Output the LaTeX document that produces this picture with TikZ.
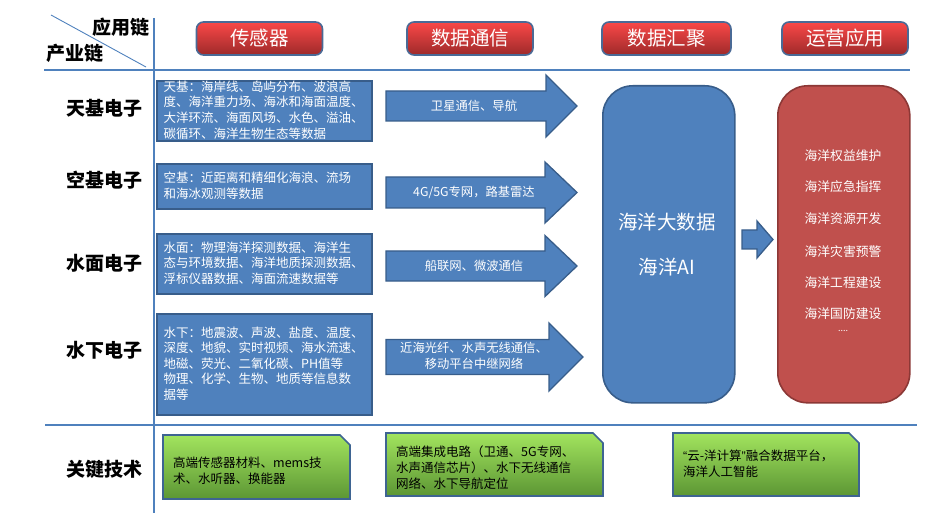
\documentclass[tikz,border=0pt]{standalone}
\usepackage{fontspec}
\setmainfont{Noto Sans CJK SC}
\newfontfamily\narrowq{Liberation Sans}
\definecolor{lineblue}{HTML}{4F81BD}
\definecolor{boxblue}{HTML}{4F81BD}
\definecolor{boxedge}{HTML}{385D8A}
\definecolor{redfill}{HTML}{C0504D}
\definecolor{rededge}{HTML}{8C3836}
\definecolor{hdrtop}{HTML}{FA4848}
\definecolor{hdrbot}{HTML}{9E2A2A}
\definecolor{hdredge}{HTML}{4A6A96}
\definecolor{greentop}{HTML}{A2E45E}
\definecolor{greenbot}{HTML}{5C9634}
\definecolor{greenedge}{HTML}{3E6492}
\newcommand\myfs[2]{\fontsize{#1}{#2}\selectfont}
\newcommand\blkarrow[6]{\filldraw[arrowbody] (#1,#4-#5) -- (#2,#4-#5) -- (#2,#4-#6) -- (#3,#4) -- (#2,#4+#6) -- (#2,#4+#5) -- (#1,#4+#5) -- cycle;}
\tikzset{
  sepline/.style={draw=lineblue, line width=2.3pt},
  rowlab/.style={anchor=east, font=\bfseries\myfs{19}{22}, inner sep=0pt},
  hdrbtn/.style={rounded corners=7pt, draw=hdredge, line width=1.6pt, top color=hdrtop, bottom color=hdrbot, text=white, font=\myfs{19.5}{22}, minimum width=126pt, minimum height=33pt, inner sep=0pt},
  databox/.style={draw=boxedge, fill=boxblue, line width=1.6pt, anchor=north west, inner sep=0pt, minimum width=215pt},
  datatxt/.style={anchor=west, align=left, text=white, font=\myfs{12.5}{15.6}, inner sep=0pt},
  arrowbody/.style={fill=boxblue, draw=boxedge, line width=1.3pt},
  arrtxt/.style={text=white, font=\myfs{12.3}{16}, align=center, inner sep=0pt},
  bigbox/.style={rounded corners=30pt, line width=1.6pt, anchor=north west, inner sep=0pt, minimum width=132pt, minimum height=317pt},
  appt/.style={text=white, font=\myfs{12.8}{15}, inner sep=0pt},
  greenbox/.style={top color=greentop, bottom color=greenbot, draw=greenedge, line width=1.6pt},
  greentxt/.style={anchor=west, align=left, font=\myfs{12.5}{15.8}, inner sep=0pt}
}
\begin{document}
\begin{tikzpicture}[x=1pt, y=-1pt]
\useasboundingbox (0,0) rectangle (931,521);
% grid lines
\draw[sepline] (154,18) -- (154,513);
\draw[sepline] (44,70) -- (910,70);
\draw[sepline] (45,425) -- (917,425);
\draw[draw=lineblue, line width=0.9pt] (51,15) -- (146,67);
\node[anchor=east, font=\bfseries\myfs{19}{22}, inner sep=0pt] (yyl) at (150,27) {应用链};
\node[font=\bfseries\myfs{19}{22}, inner sep=0pt] (cyl) at (75,53) {产业链};
% header buttons
\node[hdrbtn] (h1) at (259.5,38.5) {传感器};
\node[hdrbtn] (h2) at (470,38.5) {数据通信};
\node[hdrbtn, minimum width=129pt] (h3) at (666.5,38.5) {数据汇聚};
\node[hdrbtn] (h4) at (845,38.5) {运营应用};
% row labels
\node[rowlab] (r1) at (143,108) {天基电子};
\node[rowlab] (r2) at (143,180) {空基电子};
\node[rowlab] (r3) at (143,263) {水面电子};
\node[rowlab] (r4) at (143,350) {水下电子};
\node[rowlab] (r5) at (143,469) {关键技术};
% sensor boxes
\node[databox, minimum height=60pt] (b1) at (156,80) {};
\node[datatxt] (t1) at (163.5,110) {天基：海岸线、岛屿分布、波浪高\\度、海洋重力场、海冰和海面温度、\\大洋环流、海面风场、水色、溢油、\\碳循环、海洋生物生态等数据};
\node[databox, minimum height=45pt] (b2) at (156,163) {};
\node[datatxt] (t2) at (163.5,185.5) {空基：近距离和精细化海浪、流场\\和海冰观测等数据};
\node[databox, minimum height=60pt] (b3) at (156,233) {};
\node[datatxt] (t3) at (163.5,263) {水面：物理海洋探测数据、海洋生\\态与环境数据、海洋地质探测数据、\\浮标仪器数据、海面流速数据等};
\node[databox, minimum height=101pt] (b4) at (156,313) {};
\node[datatxt] (t4) at (163.5,363.5) {水下：地震波、声波、盐度、温度、\\深度、地貌、实时视频、海水流速、\\地磁、荧光、二氧化碳、PH值等\\物理、化学、生物、地质等信息数\\据等};
% communication arrows
\blkarrow{386}{546}{577}{106}{15}{31}
\node[arrtxt] (a1) at (474,106) {卫星通信、导航};
\blkarrow{386}{545}{577}{192.5}{15.5}{30.5}
\node[arrtxt] (a2) at (474,192.5) {4G/5G专网，路基雷达};
\blkarrow{386}{545}{577}{266}{15}{30.5}
\node[arrtxt] (a3) at (474,266) {船联网、微波通信};
\blkarrow{386}{549}{583}{357}{17.5}{34}
\node[arrtxt] (a4) at (474,356) {近海光纤、水声无线通信、\\移动平台中继网络};
% aggregation
\node[bigbox, draw=boxedge, fill=boxblue] (agg) at (602,85) {};
\node[text=white, font=\myfs{19.5}{45}, align=center, inner sep=0pt] (aggt) at (667,245) {海洋大数据\\海洋AI};
\blkarrow{742}{757}{773}{239.5}{9.5}{18.5}
% applications
\node[bigbox, draw=rededge, fill=redfill] (app) at (777,85) {};
\foreach \i/\y/\t in {1/156/海洋权益维护, 2/187/海洋应急指挥, 3/219/海洋资源开发, 4/252/海洋灾害预警, 5/283/海洋工程建设, 6/314/海洋国防建设}
  \node[appt] (ap\i) at (843,\y) {\t};
\node[appt, font=\myfs{9}{10}] (ap7) at (843,331) {....};
% key technology boxes
\shadedraw[greenbox] (163,435) -- (340,435) -- (350,445) -- (350,499) -- (163,499) -- cycle;
\node[greentxt] (g1) at (173,471) {高端传感器材料、mems技\\术、水听器、换能器};
\shadedraw[greenbox] (386,433) -- (593,433) -- (603,443) -- (603,496) -- (386,496) -- cycle;
\node[greentxt] (g2) at (396,467.5) {高端集成电路（卫通、5G专网、\\水声通信芯片）、水下无线通信\\网络、水下导航定位};
\shadedraw[greenbox] (673,433) -- (849,433) -- (859,443) -- (859,496) -- (673,496) -- cycle;
\node[greentxt] (g3) at (683,464) {{\narrowq “}云-洋计算{\narrowq ”}融合数据平台，\\海洋人工智能};
\end{tikzpicture}
\end{document}
